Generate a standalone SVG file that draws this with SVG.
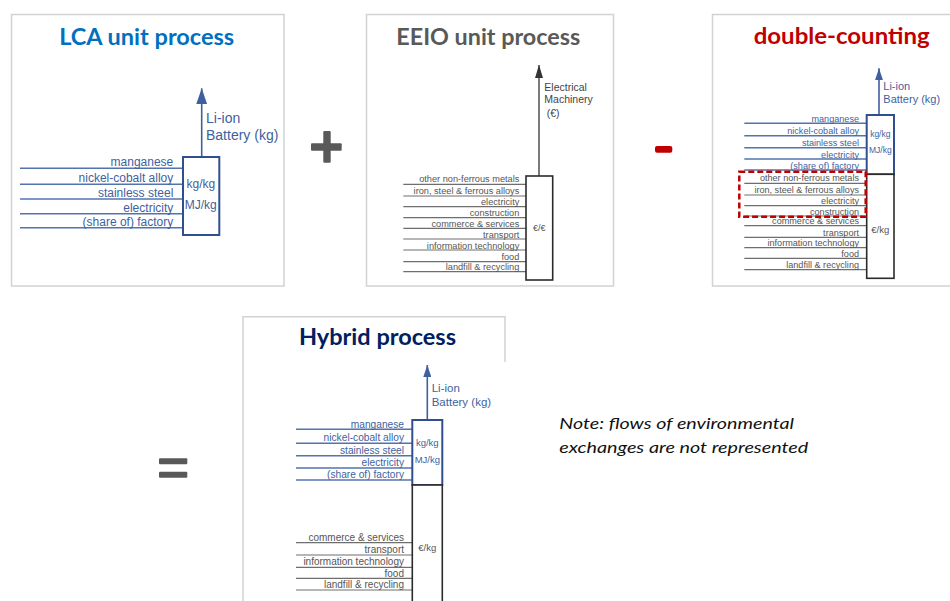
<svg xmlns="http://www.w3.org/2000/svg" width="950" height="601" viewBox="0 0 950 601">
  <style>
    .panel { fill: #ffffff; stroke: #d2d2d2; stroke-width: 1.5; }
    .edge { fill: none; stroke: #d2d2d2; stroke-width: 1.5; }
    .title { font-family: Lato, "Open Sans", sans-serif; font-weight: bold; text-anchor: middle; }
    .lbl { font-family: "Liberation Sans", Arial, sans-serif; text-anchor: end; }
    .lbl-b { fill: #3f5f9e; }
    .lbl-g { fill: #555555; }
    .unit { font-family: "Liberation Sans", Arial, sans-serif; text-anchor: middle; }
    .out { font-family: "Liberation Sans", Arial, sans-serif; }
    .flow-b { stroke: #5373b0; stroke-width: 1.4; }
    .flow-g { stroke: #6e6e6e; stroke-width: 1.2; }
    .box-b { fill: #ffffff; stroke: #2f4f8f; stroke-width: 2; }
    .box-g { fill: #ffffff; stroke: #2b2b2b; stroke-width: 1.6; }
    .arr-b { stroke: #3f5f9e; stroke-width: 1.6; }
    .arr-g { stroke: #333333; stroke-width: 1.3; }
    .op-grey { fill: #595959; }
    .op-red { fill: #c00000; }
    .note { font-family: Lato, "Open Sans", sans-serif; font-style: italic; font-size: 16px; fill: #111111; }
  </style>
  <defs>
    <marker id="headBlueL" markerUnits="userSpaceOnUse" markerWidth="16" markerHeight="11" refX="16" refY="5.5" orient="auto" viewBox="0 0 16 11">
      <path d="M0,0 L16,5.5 L0,11 Z" fill="#3f5f9e"/>
    </marker>
    <marker id="headBlueS" markerUnits="userSpaceOnUse" markerWidth="12" markerHeight="8" refX="12" refY="4" orient="auto" viewBox="0 0 12 8">
      <path d="M0,0 L12,4 L0,8 Z" fill="#3f5f9e"/>
    </marker>
    <marker id="headGrey" markerUnits="userSpaceOnUse" markerWidth="13" markerHeight="8" refX="13" refY="4" orient="auto" viewBox="0 0 13 8">
      <path d="M0,0 L13,4 L0,8 Z" fill="#333333"/>
    </marker>
  </defs>

  <rect width="950" height="601" fill="#ffffff"/>

  <!-- panel frames -->
  <rect class="panel" x="11.5" y="14.5" width="272.5" height="271.5"/>
  <rect class="panel" x="366.5" y="14.5" width="247" height="271.5"/>
  <rect class="panel" x="712.5" y="14.5" width="240" height="271.5"/>
  <path class="edge" d="M243,601 V316.7 H505 V362"/>

  <!-- titles -->
  <text class="title" x="146.7" y="45" font-size="23" fill="#0070c0" textLength="175" lengthAdjust="spacingAndGlyphs">LCA unit process</text>
  <text class="title" x="488.3" y="45" font-size="22.5" fill="#595959" textLength="184" lengthAdjust="spacingAndGlyphs">EEIO unit process</text>
  <text class="title" x="841.7" y="44.3" font-size="23" fill="#c00000" textLength="176" lengthAdjust="spacingAndGlyphs">double-counting</text>
  <text class="title" x="377.5" y="345" font-size="22.5" fill="#002060" textLength="157" lengthAdjust="spacingAndGlyphs">Hybrid process</text>

  <!-- operators -->
  <g id="op-plus" class="op-grey">
    <rect x="323.3" y="131" width="7.4" height="31.7" rx="1"/>
    <rect x="311" y="143.3" width="30.7" height="7.4" rx="1"/>
  </g>
  <rect id="op-minus" class="op-red" x="655" y="146" width="17.3" height="6.7" rx="2"/>
  <g id="op-equals" class="op-grey">
    <rect x="159" y="458.3" width="28.3" height="6" rx="1"/>
    <rect x="159" y="471.7" width="28.3" height="6" rx="1"/>
  </g>

  <!-- flows and output arrows -->
  <g id="connectors">
    <!-- LCA inputs -->
    <g class="flow-b">
      <line x1="20" y1="168.3" x2="183" y2="168.3"/>
      <line x1="20" y1="184.3" x2="183" y2="184.3"/>
      <line x1="20" y1="199" x2="183" y2="199"/>
      <line x1="20" y1="213.7" x2="183" y2="213.7"/>
      <line x1="20" y1="227.7" x2="183" y2="227.7"/>
    </g>
    <line class="arr-b" x1="201.7" y1="157" x2="201.7" y2="88.3" marker-end="url(#headBlueL)"/>

    <!-- EEIO inputs -->
    <g class="flow-g">
      <line x1="403.3" y1="184.3" x2="526" y2="184.3"/>
      <line x1="403.3" y1="196" x2="526" y2="196"/>
      <line x1="403.3" y1="206.7" x2="526" y2="206.7"/>
      <line x1="403.3" y1="217.7" x2="526" y2="217.7"/>
      <line x1="403.3" y1="228.3" x2="526" y2="228.3"/>
      <line x1="403.3" y1="239" x2="526" y2="239"/>
      <line x1="403.3" y1="250" x2="526" y2="250"/>
      <line x1="403.3" y1="261.7" x2="526" y2="261.7"/>
      <line x1="403.3" y1="271.7" x2="526" y2="271.7"/>
    </g>
    <line class="arr-g" x1="539" y1="176" x2="539" y2="65" marker-end="url(#headGrey)"/>

    <!-- double-counting inputs -->
    <g class="flow-b">
      <line x1="744.3" y1="123.3" x2="866.7" y2="123.3"/>
      <line x1="744.3" y1="135.7" x2="866.7" y2="135.7"/>
      <line x1="744.3" y1="147.7" x2="866.7" y2="147.7"/>
      <line x1="744.3" y1="159" x2="866.7" y2="159"/>
      <line x1="744.3" y1="170" x2="866.7" y2="170"/>
    </g>
    <g class="flow-g">
      <line x1="744.3" y1="183.3" x2="866.7" y2="183.3"/>
      <line x1="744.3" y1="195" x2="866.7" y2="195"/>
      <line x1="744.3" y1="205.7" x2="866.7" y2="205.7"/>
      <line x1="744.3" y1="216" x2="866.7" y2="216"/>
      <line x1="744.3" y1="225.7" x2="866.7" y2="225.7"/>
      <line x1="744.3" y1="237.3" x2="866.7" y2="237.3"/>
      <line x1="744.3" y1="247.7" x2="866.7" y2="247.7"/>
      <line x1="744.3" y1="258.3" x2="866.7" y2="258.3"/>
      <line x1="744.3" y1="269.7" x2="866.7" y2="269.7"/>
    </g>
    <line class="arr-b" x1="879" y1="115" x2="879" y2="68.3" marker-end="url(#headBlueS)"/>

    <!-- hybrid inputs -->
    <g class="flow-b">
      <line x1="296" y1="429.3" x2="412.3" y2="429.3"/>
      <line x1="296" y1="443.3" x2="412.3" y2="443.3"/>
      <line x1="296" y1="455.7" x2="412.3" y2="455.7"/>
      <line x1="296" y1="468" x2="412.3" y2="468"/>
      <line x1="296" y1="480" x2="412.3" y2="480"/>
    </g>
    <g class="flow-g">
      <line x1="296" y1="542.7" x2="412.3" y2="542.7"/>
      <line x1="296" y1="555" x2="412.3" y2="555"/>
      <line x1="296" y1="567.3" x2="412.3" y2="567.3"/>
      <line x1="296" y1="578.3" x2="412.3" y2="578.3"/>
      <line x1="296" y1="590" x2="412.3" y2="590"/>
    </g>
    <line class="arr-b" x1="427.3" y1="420" x2="427.3" y2="365" marker-end="url(#headBlueS)"/>
  </g>

  <!-- LCA unit process -->
  <g id="lca-process">
    <rect class="box-b" x="183" y="157" width="36.3" height="78"/>
    <text class="unit lbl-b" x="200.8" y="187.5" font-size="12">kg/kg</text>
    <text class="unit lbl-b" x="200.8" y="209" font-size="12">MJ/kg</text>
    <text class="out lbl-b" x="206" y="123" font-size="14">Li-ion</text>
    <text class="out lbl-b" x="206" y="140" font-size="14">Battery (kg)</text>
    <g class="lbl lbl-b" font-size="12">
      <text x="173.3" y="165.7">manganese</text>
      <text x="173.3" y="182.3">nickel-cobalt alloy</text>
      <text x="173.3" y="196.7">stainless steel</text>
      <text x="173.3" y="211.7">electricity</text>
      <text x="173.3" y="225.7">(share of) factory</text>
    </g>
  </g>

  <!-- EEIO unit process -->
  <g id="eeio-process">
    <rect class="box-g" x="526" y="176" width="26.7" height="104"/>
    <text class="unit lbl-g" x="539.3" y="231" font-size="9">€/€</text>
    <text class="out" x="544.3" y="91" font-size="10.5" fill="#444444">Electrical</text>
    <text class="out" x="544.3" y="103.3" font-size="10.5" fill="#444444">Machinery</text>
    <text class="out" x="546.7" y="116.7" font-size="10.5" fill="#444444">(€)</text>
    <g class="lbl lbl-g" font-size="9.2">
      <text x="519.3" y="182.3">other non-ferrous metals</text>
      <text x="519.3" y="194">iron, steel &amp; ferrous alloys</text>
      <text x="519.3" y="205.2">electricity</text>
      <text x="519.3" y="216.2">construction</text>
      <text x="519.3" y="226.8">commerce &amp; services</text>
      <text x="519.3" y="237.5">transport</text>
      <text x="519.3" y="248.5">information technology</text>
      <text x="519.3" y="260.2">food</text>
      <text x="519.3" y="270.2">landfill &amp; recycling</text>
    </g>
  </g>

  <!-- double-counting -->
  <g id="double-counting">
    <rect class="box-b" x="866.7" y="115" width="27.3" height="59.3"/>
    <rect class="box-g" x="866.7" y="174.3" width="27.3" height="104"/>
    <text class="unit lbl-b" x="880.3" y="137" font-size="8.5">kg/kg</text>
    <text class="unit lbl-b" x="880.3" y="153" font-size="8.5">MJ/kg</text>
    <text class="unit lbl-g" x="880.3" y="232.5" font-size="9.5">€/kg</text>
    <text class="out lbl-b" x="883.3" y="90" font-size="11">Li-ion</text>
    <text class="out lbl-b" x="883.3" y="103.3" font-size="11">Battery (kg)</text>
    <g class="lbl lbl-b" font-size="9.1">
      <text x="859" y="121.8">manganese</text>
      <text x="859" y="134.2">nickel-cobalt alloy</text>
      <text x="859" y="146.2">stainless steel</text>
      <text x="859" y="157.5">electricity</text>
      <text x="859" y="168.5">(share of) factory</text>
    </g>
    <g class="lbl lbl-g" font-size="9.1">
      <text x="859" y="181.3">other non-ferrous metals</text>
      <text x="859" y="193.3">iron, steel &amp; ferrous alloys</text>
      <text x="859" y="204.2">electricity</text>
      <text x="859" y="214.5">construction</text>
      <text x="859" y="224.2">commerce &amp; services</text>
      <text x="859" y="235.8">transport</text>
      <text x="859" y="246.2">information technology</text>
      <text x="859" y="256.8">food</text>
      <text x="859" y="268.2">landfill &amp; recycling</text>
    </g>
    <rect x="739.3" y="171.7" width="126.4" height="45" fill="none" stroke="#c00000" stroke-width="2.5" stroke-dasharray="6 3"/>
  </g>

  <!-- hybrid process -->
  <g id="hybrid-process">
    <rect class="box-b" x="412.3" y="420" width="30" height="65"/>
    <rect class="box-g" x="412.3" y="485" width="30" height="120"/>
    <text class="unit lbl-b" x="427.3" y="446" font-size="9.5">kg/kg</text>
    <text class="unit lbl-b" x="427.3" y="462.5" font-size="9.5">MJ/kg</text>
    <text class="unit lbl-g" x="427.3" y="550.5" font-size="9.5">€/kg</text>
    <text class="out lbl-b" x="431.7" y="391.7" font-size="11.5">Li-ion</text>
    <text class="out lbl-b" x="431.7" y="406" font-size="11.5">Battery (kg)</text>
    <g class="lbl lbl-b" font-size="10.2">
      <text x="404" y="427.5">manganese</text>
      <text x="404" y="441.3">nickel-cobalt alloy</text>
      <text x="404" y="453.8">stainless steel</text>
      <text x="404" y="466.2">electricity</text>
      <text x="404" y="478.2">(share of) factory</text>
    </g>
    <g class="lbl lbl-g" font-size="10">
      <text x="404" y="540.7">commerce &amp; services</text>
      <text x="404" y="553">transport</text>
      <text x="404" y="565.3">information technology</text>
      <text x="404" y="576.5">food</text>
      <text x="404" y="588.2">landfill &amp; recycling</text>
    </g>
  </g>

  <!-- note -->
  <g id="note">
    <text class="note" x="559.3" y="429.3" textLength="234.7" lengthAdjust="spacingAndGlyphs">Note: flows of environmental</text>
    <text class="note" x="559.3" y="452.7" textLength="249" lengthAdjust="spacingAndGlyphs">exchanges are not represented</text>
  </g>
</svg>
